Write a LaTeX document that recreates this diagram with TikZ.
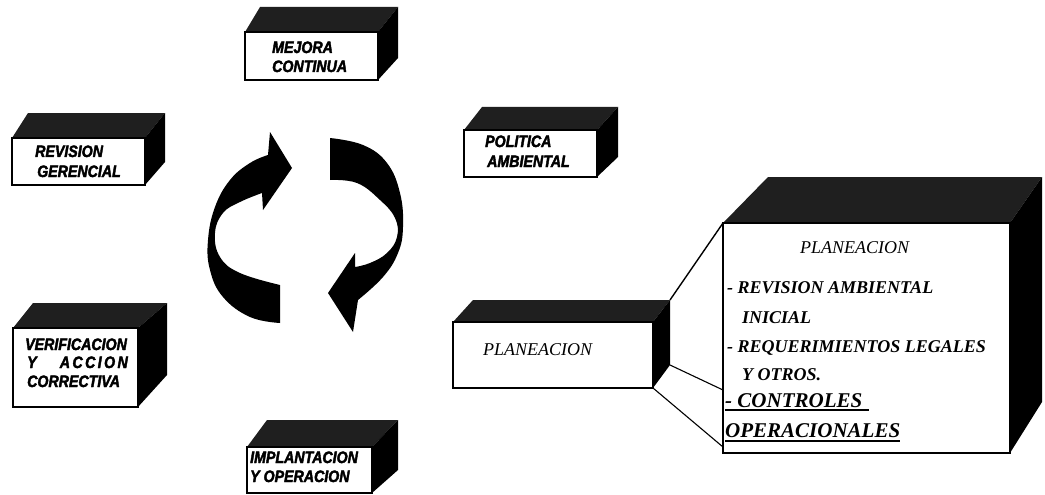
\documentclass[tikz,border=0pt]{standalone}
\usepackage{fontspec}
\setmainfont{Liberation Serif}
\newfontfamily\cubefont{Liberation Sans}[FakeStretch=0.86,
  BoldItalicFeatures={FakeBold=2.4}]

% #1 name, #2/#3 front top-left, #4/#5 front bottom-right,
% #6 back-left x, #7 back top y, #8 back-right x, #9 back bottom y
\newcommand\cubebox[9]{%
  \fill[topface] (#2,#3) -- (#6,#7) -- (#8,#7) -- (#4,#3) -- cycle;
  \fill[sideface] (#4,#3) -- (#8,#7) -- (#8,#9) -- (#4,#5) -- cycle;
  \coordinate (#1-btr) at (#8,#7);
  \coordinate (#1-bbr) at (#8,#9);
  \node[front, anchor=north west, minimum width={(#4-#2)*1pt},
        minimum height={(#5-#3)*1pt}] (#1) at (#2,#3) {};
}

\begin{document}
\begin{tikzpicture}[x=1pt,y=-1pt,
  front/.style={draw=black, line width=1.1pt, fill=white, inner sep=0pt, outer sep=0pt},
  topface/.style={fill=black!88},
  sideface/.style={fill=black},
  tag/.style={font=\cubefont\bfseries\itshape\fontsize{16.5}{19}\selectfont,
              anchor=base west, inner sep=0pt},
  titletext/.style={font=\itshape\fontsize{18}{20}\selectfont,
              anchor=base west, inner sep=0pt},
  itemtext/.style={font=\bfseries\itshape\fontsize{18}{20}\selectfont,
              anchor=base west, inner sep=0pt},
  bigtext/.style={font=\bfseries\itshape\fontsize{21}{24}\selectfont,
              anchor=base west, inner sep=0pt},
  link/.style={draw=black, line width=1.4pt},
  uline/.style={draw=black, line width=1.8pt},
  cyclearrow/.style={fill=black}
]
\useasboundingbox[fill=white] (0,0) rectangle (1045,495);

% the five stages of the cycle
\cubebox{mejora}{245}{32}{378}{80}{260}{7}{398}{58}
\node[tag] (mejoraA) at (272,53) {MEJORA};
\node[tag] (mejoraB) at (272,72) {CONTINUA};

\cubebox{revision}{12}{138}{145}{185}{28}{113}{165}{162}
\node[tag] (revA) at (35,157) {REVISION};
\node[tag] (revB) at (37,177) {GERENCIAL};

\cubebox{politica}{464}{130}{597}{177}{482}{107}{618}{157}
\node[tag] (polA) at (485,147) {POLITICA};
\node[tag] (polB) at (487,167) {AMBIENTAL};

\cubebox{verif}{13}{328}{138}{407}{33}{303}{167}{375}
\node[tag] (verA) at (25,350) {VERIFICACION};
\node[tag] (verB) at (27,368) {Y};
\node[tag, anchor=base east] (verC) at (128,368)
  {\makebox[68pt][s]{A\hfill C\hfill C\hfill I\hfill O\hfill N}};
\node[tag] (verD) at (27,387) {CORRECTIVA};

\cubebox{implant}{247}{447}{372}{493}{267}{420}{398}{470}
\node[tag] (impA) at (250,463) {IMPLANTACION};
\node[tag] (impB) at (250,482) {Y OPERACION};

% planning stage and its expansion
\cubebox{plan}{453}{322}{653}{388}{473}{300}{670}{365}
\node[titletext] (planT) at (483,355) {PLANEACION};

\cubebox{detail}{723}{223}{1010}{453}{768}{177}{1042}{402}
\node[titletext] (detT) at (800,253) {PLANEACION};
\node[itemtext] (it1) at (727,293) {- REVISION AMBIENTAL};
\node[itemtext] (it1b) at (742,323) {INICIAL};
\node[itemtext] (it2) at (727,352) {- REQUERIMIENTOS LEGALES};
\node[itemtext] (it2b) at (742,380) {Y OTROS.};
\node[bigtext] (it3) at (725,407) {- CONTROLES};
\node[bigtext] (it3b) at (725,437) {OPERACIONALES};
\draw[uline] ([yshift=-3pt]it3.base west) -- ([xshift=6pt,yshift=-3pt]it3.base east);
\draw[uline] ([yshift=-4pt]it3b.base west) -- ([yshift=-4pt]it3b.base east);

\coordinate (detL2) at (723,390);
\coordinate (detL3) at (723,447);
\draw[link] (plan-btr) -- (detail.north west);
\draw[link, line width=1.1pt] (plan-bbr) -- (detL2);
\draw[link, line width=1.1pt] (plan.south east) -- (detL3);

% the two circular arrows in the middle
\fill[cyclearrow] (280,323)
  -- plot[smooth, tension=0.7] coordinates {(280,323) (250,317) (223,297) (210,270)
       (208,240) (215,207) (230,180) (250,163) (268,155)}
  -- (270,132) -- (292,168) -- (263,210) -- (262,193)
  -- plot[smooth, tension=0.7] coordinates {(262,193) (240,202) (223,213) (215,233)
       (220,257) (240,273) (280,285)}
  -- cycle;
\fill[cyclearrow] (330,138)
  -- plot[smooth, tension=0.7] coordinates {(330,138) (363,145) (387,163) (400,193)
       (403,227) (398,253) (383,277) (358,300)}
  -- (353,332) -- (328,293) -- (355,253) -- (355,267)
  -- plot[smooth, tension=0.7] coordinates {(355,267) (370,263) (387,253) (397,237)
       (395,218) (380,200) (357,183) (330,180)}
  -- cycle;
\end{tikzpicture}
\end{document}
